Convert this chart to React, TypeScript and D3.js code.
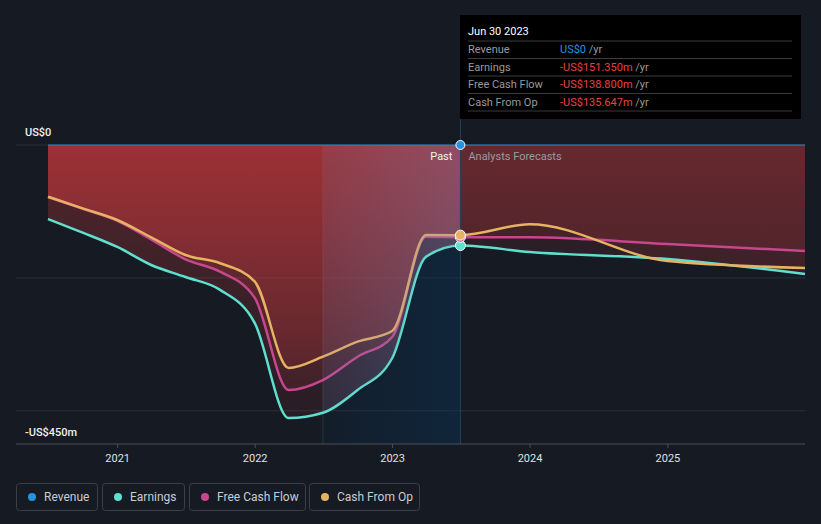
import React from "react";
import * as d3 from "d3";

// ---------- data ----------
const dates = [
  "2020-06-30", "2020-09-30", "2020-12-31", "2021-03-31", "2021-06-30", "2021-09-30",
  "2021-12-31", "2022-03-31", "2022-06-30", "2022-09-30", "2022-12-31", "2023-03-31",
  "2023-06-30", "2023-12-31", "2024-12-31", "2025-12-31",
];
const revenue = [0, 0, 0, 0, 0, 0, 0, 0, 0, 0, 0, 0, 0, 0, 0, 0];
const earnings = [-111.4, -131.9, -153.5, -180.6, -198.7, -218, -268, -411, -403, -368.7, -320.6, -168, -151.35, -161, -171.6, -194];
const freeCashFlow = [-78.5, -96, -114, -142, -172, -190.7, -230, -368.7, -353.7, -318.6, -289, -138, -138.8, -139, -149, -159.5];
const cashFromOp = [-77.8, -95.3, -112.9, -139, -165.6, -178, -205.7, -335.6, -318.6, -296, -280, -135.5, -135.647, -119.4, -174.6, -185];

const yearTicks = ["2021", "2022", "2023", "2024", "2025"];
const yDomain = [-450, 0];
const gridValues = [0, -200, -400];
const yLabels = ["US$0", "-US$450m"];

const todayDate = "2023-06-30";
const highlightStart = "2022-06-30";
const tooltipTitle = "Jun 30 2023";
const tooltipLabels = ["Revenue", "Earnings", "Free Cash Flow", "Cash From Op"];
const tooltipValues = ["US$0", "-US$151.350m", "-US$138.800m", "-US$135.647m"];
const legendLabels = ["Revenue", "Earnings", "Free Cash Flow", "Cash From Op"];

const COLORS = {
  revenue: "#2394df",
  earnings: "#5fe0cf",
  fcf: "#c7468d",
  cfo: "#e8b263",
};
const BG = "#151a23";
const FONT = "Roboto, 'Open Sans', sans-serif";

export default function App() {
  const W = 821, H = 524;
  const parse = d3.utcParse("%Y-%m-%d");
  const dts = dates.map((d) => parse(d) as Date);
  const x = d3.scaleUtc()
    .domain([parse("2020-06-30") as Date, parse("2025-12-31") as Date])
    .range([48, 805]);
  const y = d3.scaleLinear().domain(yDomain).range([444, 145]);
  const xToday = x(parse(todayDate) as Date);
  const xHl = x(parse(highlightStart) as Date);

  const mk = (vals: number[]) => dts.map((d, i) => ({ d, v: vals[i] }));
  const seriesE = mk(earnings), seriesF = mk(freeCashFlow), seriesC = mk(cashFromOp), seriesR = mk(revenue);

  const line = d3.line<{ d: Date; v: number }>()
    .x((p) => x(p.d)).y((p) => y(p.v)).curve(d3.curveMonotoneX);
  const area = d3.area<{ d: Date; v: number }>()
    .x((p) => x(p.d)).y0(y(0)).y1((p) => y(p.v)).curve(d3.curveMonotoneX);

  const allSeries = [seriesE, seriesF, seriesC];

  const legendBoxes = [
    { x: 16, w: 81, color: COLORS.revenue },
    { x: 102, w: 82, color: COLORS.earnings },
    { x: 189, w: 116, color: COLORS.fcf },
    { x: 309, w: 110, color: COLORS.cfo },
  ];

  return (
    <div style={{ position: "fixed", left: 0, top: 0, width: W, height: H, background: BG }}>
      <svg width={W} height={H} style={{ display: "block", fontFamily: FONT }}>
        <defs>
          <linearGradient id="pastGrad" gradientUnits="userSpaceOnUse" x1="0" y1={y(0)} x2="0" y2={y(-450)}>
            <stop offset="0" stopColor="rgb(220,61,63)" stopOpacity={0.31} />
            <stop offset="1" stopColor="rgb(220,61,63)" stopOpacity={0.07} />
          </linearGradient>
          <linearGradient id="foreGrad" gradientUnits="userSpaceOnUse" x1="0" y1={y(0)} x2="0" y2={y(-450)}>
            <stop offset="0" stopColor="rgb(220,61,63)" stopOpacity={0.16} />
            <stop offset="1" stopColor="rgb(220,61,63)" stopOpacity={0.03} />
          </linearGradient>
          <linearGradient id="bandBlue" gradientUnits="userSpaceOnUse" x1={xHl} y1="0" x2={xToday} y2="0">
            <stop offset="0" stopColor="rgb(10,52,88)" stopOpacity={0.12} />
            <stop offset="1" stopColor="rgb(10,52,88)" stopOpacity={0.45} />
          </linearGradient>
          <linearGradient id="bandLight" gradientUnits="userSpaceOnUse" x1={xHl} y1="0" x2={xToday} y2="0">
            <stop offset="0" stopColor="rgb(120,135,185)" stopOpacity={0.12} />
            <stop offset="1" stopColor="rgb(120,135,185)" stopOpacity={0.3} />
          </linearGradient>
          <clipPath id="clipPast">
            <rect x={0} y={0} width={xToday} height={H} />
          </clipPath>
          <clipPath id="clipFore">
            <rect x={xToday} y={0} width={W - xToday} height={H} />
          </clipPath>
          <clipPath id="clipBandArea">
            <path d={area(seriesE) || ""} />
          </clipPath>
        </defs>

        {/* grid */}
        {gridValues.map((g) => (
          <line key={g} x1={16} x2={805} y1={y(g)} y2={y(g)} stroke="#2a303b" strokeWidth={1} />
        ))}

        {/* highlight band underlay */}
        <rect x={xHl} y={y(0)} width={xToday - xHl} height={y(-450) - y(0)} fill="url(#bandBlue)" />
        <line x1={xHl} x2={xHl} y1={y(0)} y2={y(-450)} stroke="#2c3442" strokeWidth={1} />

        {/* revenue line (zero) */}
        <path d={line(seriesR) || ""} fill="none" stroke={COLORS.revenue} strokeOpacity={0.45} strokeWidth={2} />

        {/* areas */}
        <g clipPath="url(#clipPast)">
          {allSeries.map((s, i) => (
            <path key={i} d={area(s) || ""} fill="url(#pastGrad)" />
          ))}
        </g>
        <g clipPath="url(#clipFore)">
          {allSeries.map((s, i) => (
            <path key={i} d={area(s) || ""} fill="url(#foreGrad)" />
          ))}
        </g>

        {/* lines */}
        <path d={line(seriesE) || ""} fill="none" stroke={COLORS.earnings} strokeWidth={2.5} />
        <path d={line(seriesF) || ""} fill="none" stroke={COLORS.fcf} strokeWidth={2.5} />
        <path d={line(seriesC) || ""} fill="none" stroke={COLORS.cfo} strokeWidth={2.5} />

        {/* band light overlay on red region */}
        <g clipPath="url(#clipBandArea)">
          <rect x={xHl} y={y(0)} width={xToday - xHl} height={y(-450) - y(0)} fill="url(#bandLight)" />
        </g>

        {/* today line */}
        <line x1={xToday} x2={xToday} y1={119} y2={y(-450)} stroke="#24405a" strokeWidth={1} />

        {/* axis */}
        <line x1={16} x2={805} y1={y(-450)} y2={y(-450)} stroke="#4a505b" strokeWidth={1} />
        {yearTicks.map((t) => {
          const tx = x(parse(`${t}-01-01`) as Date);
          return (
            <g key={t}>
              <line x1={tx} x2={tx} y1={y(-450)} y2={y(-450) + 4} stroke="#4a505b" />
              <text x={tx} y={462} textAnchor="middle" fontSize={11} fill="#e0e0e0">{t}</text>
            </g>
          );
        })}

        {/* y labels */}
        <text x={25} y={136} fontSize={11} fill="#f0f0f0" fontWeight={500}>{yLabels[0]}</text>
        <text x={25} y={436} fontSize={11} fill="#f0f0f0" fontWeight={500}>{yLabels[1]}</text>

        {/* past / forecast labels */}
        <text x={xToday - 8} y={160} textAnchor="end" fontSize={11} fill="#f2f2f2">Past</text>
        <text x={xToday + 8} y={160} fontSize={11} fill="#9a9aa2">Analysts Forecasts</text>

        {/* dots */}
        <circle cx={xToday} cy={y(revenue[12])} r={4.5} fill={COLORS.revenue} stroke="#fff" strokeWidth={1} />
        <circle cx={xToday} cy={y(earnings[12])} r={5} fill={COLORS.earnings} stroke="#fff" strokeWidth={1} />
        <circle cx={xToday} cy={y(freeCashFlow[12])} r={5} fill={COLORS.fcf} stroke="#fff" strokeWidth={1} />
        <circle cx={xToday} cy={y(cashFromOp[12])} r={5} fill={COLORS.cfo} stroke="#fff" strokeWidth={1} />

        {/* tooltip */}
        <rect x={460} y={15} width={341} height={104} fill="#000" />
        <text x={468} y={35} fontSize={11} fill="#fff">{tooltipTitle}</text>
        {[41, 58.5, 76, 93.5, 111].map((ly) => (
          <line key={ly} x1={468} x2={792} y1={ly} y2={ly} stroke="#3a3a3a" strokeWidth={1} />
        ))}
        {tooltipLabels.map((l, i) => {
          const ty = 53 + i * 17.5;
          const val = tooltipValues[i];
          return (
            <g key={l}>
              <text x={468} y={ty} fontSize={11} fill="#9a9a9a">{l}</text>
              <text x={560} y={ty} fontSize={11}>
                <tspan fill={i === 0 ? COLORS.revenue : "#e8433f"}>{val}</tspan>
                <tspan fill="#9a9a9a"> /yr</tspan>
              </text>
            </g>
          );
        })}

        {/* legend */}
        {legendLabels.map((l, i) => {
          const b = legendBoxes[i];
          return (
            <g key={l}>
              <rect x={b.x + 0.5} y={483.5} width={b.w} height={27} rx={3} fill="none" stroke="#3a404b" />
              <circle cx={b.x + 16} cy={497} r={4} fill={b.color} />
              <text x={b.x + 28} y={501} fontSize={12} fill="#c8ccd2">{l}</text>
            </g>
          );
        })}
      </svg>
    </div>
  );
}
